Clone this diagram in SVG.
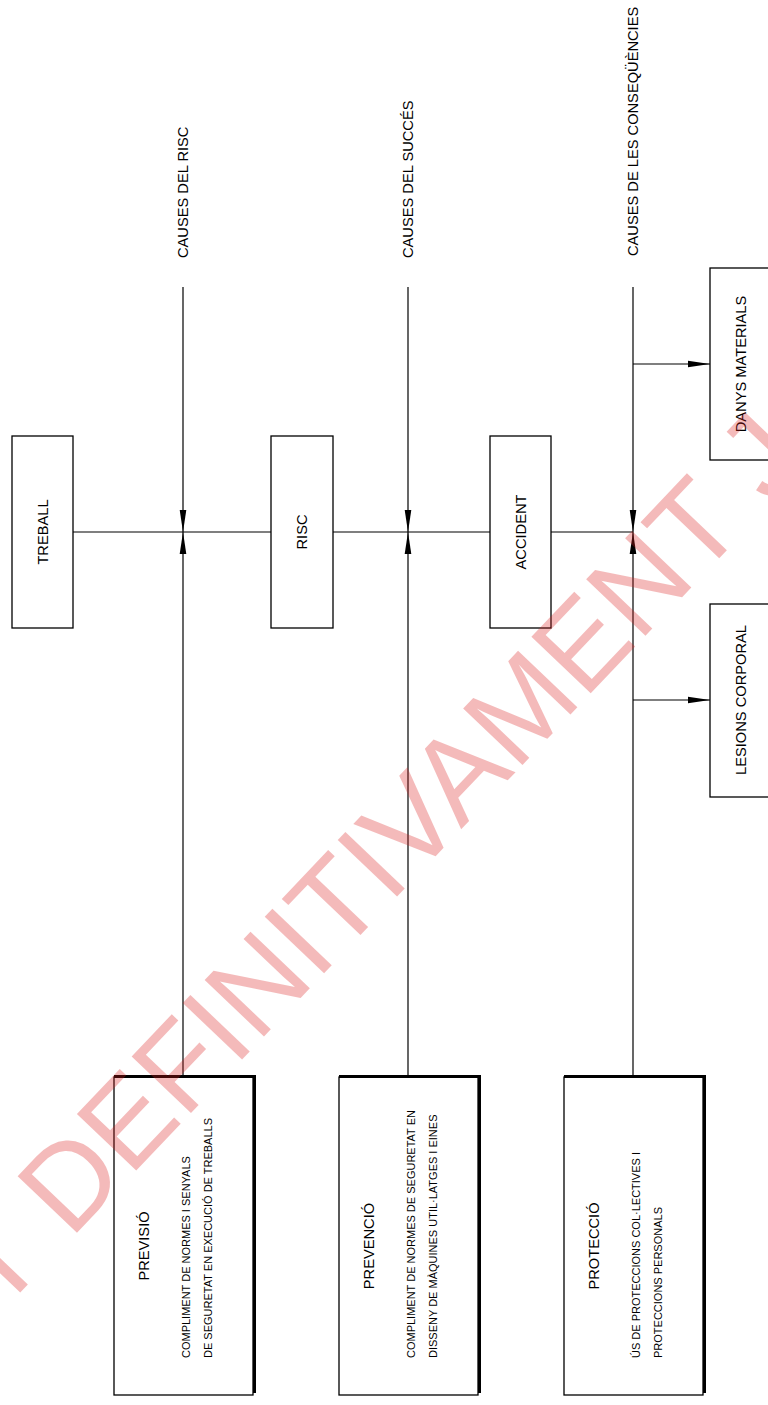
<svg xmlns="http://www.w3.org/2000/svg" width="768" height="1405" viewBox="0 0 768 1405">
<defs>
<marker id="arr" markerUnits="userSpaceOnUse" markerWidth="22" markerHeight="8" refX="20" refY="3" orient="auto" viewBox="0 0 20 6">
<path d="M0,0 L20,3 L0,6 Z" fill="#000"/>
</marker>
</defs>
<style>
text{font-family:"Liberation Sans",Arial,sans-serif;fill:#000}
.lbl{font-size:14.67px;text-anchor:middle}
.cause{font-size:14.67px;text-anchor:start}
.small{font-size:11px;text-anchor:start}
.box{fill:#fff;stroke:#000;stroke-width:1.3}
.thick{fill:none;stroke:#000;stroke-width:3}
.ln{fill:none;stroke:#000;stroke-width:1.2}
.wm{font-family:"Liberation Sans",Arial,sans-serif;font-size:119px;fill:rgb(220,30,30);opacity:0.3}
</style>
<rect width="768" height="1405" fill="#fff"/>

<g id="connectors">
<path class="ln" d="M73,532 H271 M333,532 H490 M551,532 H633"/>
<path class="ln" d="M183,287 V532" marker-end="url(#arr)"/>
<path class="ln" d="M183,1077 V532" marker-end="url(#arr)"/>
<path class="ln" d="M408,287 V532" marker-end="url(#arr)"/>
<path class="ln" d="M408,1077 V532" marker-end="url(#arr)"/>
<path class="ln" d="M633,287 V532" marker-end="url(#arr)"/>
<path class="ln" d="M633,1077 V532" marker-end="url(#arr)"/>
<path class="ln" d="M633,364 H710" marker-end="url(#arr)"/>
<path class="ln" d="M633,700 H710" marker-end="url(#arr)"/>
</g>

<g id="causes-risc"><text class="cause" transform="translate(188,258) rotate(-90)">CAUSES DEL RISC</text></g>
<g id="causes-succes"><text class="cause" transform="translate(413,258) rotate(-90)">CAUSES DEL SUCCÉS</text></g>
<g id="causes-consequencies"><text class="cause" transform="translate(638,256) rotate(-90)">CAUSES DE LES CONSEQÜÈNCIES</text></g>

<g id="treball"><rect class="box" x="12" y="436" width="61" height="192"/><text class="lbl" transform="translate(48,532) rotate(-90)">TREBALL</text></g>
<g id="risc"><rect class="box" x="271" y="436" width="62" height="192"/><text class="lbl" transform="translate(307,532) rotate(-90)">RISC</text></g>
<g id="accident"><rect class="box" x="490" y="436" width="61" height="192"/><text class="lbl" transform="translate(526,532) rotate(-90)">ACCIDENT</text></g>
<g id="danys"><rect class="box" x="710" y="268" width="62" height="192"/><text class="lbl" transform="translate(746,364) rotate(-90)">DANYS MATERIALS</text></g>
<g id="lesions"><rect class="box" x="710" y="604" width="62" height="193"/><text class="lbl" transform="translate(746,700) rotate(-90)">LESIONS CORPORAL</text></g>

<g id="previsio">
<rect class="box" x="114" y="1077" width="139" height="318"/>
<path class="thick" d="M114,1076.5 H254.5 V1393"/>
<text class="lbl" transform="translate(149,1246) rotate(-90)">PREVISIÓ</text>
<text class="small" transform="translate(190,1358) rotate(-90)">COMPLIMENT DE NORMES I SENYALS</text>
<text class="small" transform="translate(212,1358) rotate(-90)">DE SEGURETAT EN EXECUCIÓ DE TREBALLS</text>
</g>
<g id="prevencio">
<rect class="box" x="339" y="1077" width="139" height="318"/>
<path class="thick" d="M339,1076.5 H479.5 V1393"/>
<text class="lbl" transform="translate(374,1246) rotate(-90)">PREVENCIÓ</text>
<text class="small" transform="translate(415,1358) rotate(-90)">COMPLIMENT DE NORMES DE SEGURETAT EN</text>
<text class="small" transform="translate(437,1358) rotate(-90)">DISSENY DE MÀQUINES UTIL·LATGES I EINES</text>
</g>
<g id="proteccio">
<rect class="box" x="564" y="1077" width="139" height="318"/>
<path class="thick" d="M564,1076.5 H704.5 V1393"/>
<text class="lbl" transform="translate(599,1246) rotate(-90)">PROTECCIÓ</text>
<text class="small" transform="translate(640,1358) rotate(-90)">ÚS DE PROTECCIONS COL·LECTIVES I</text>
<text class="small" transform="translate(662,1358) rotate(-90)">PROTECCIONS PERSONALS</text>
</g>

<g id="watermark"><text class="wm" transform="translate(72,1238) rotate(-46.4)" x="-106" y="0">T DEFINITIVAMENT J</text></g>
</svg>
